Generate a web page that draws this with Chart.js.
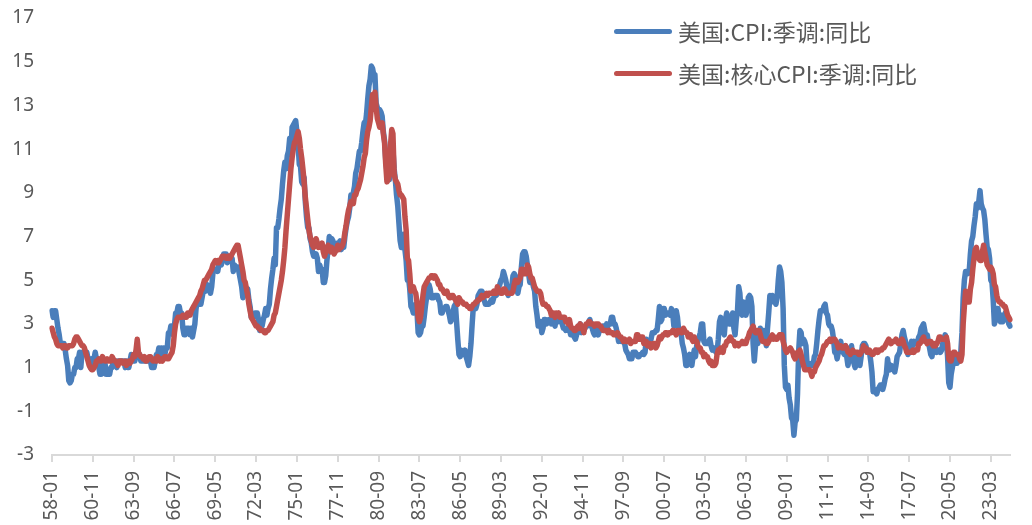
<!DOCTYPE html>
<html>
<head>
<meta charset="utf-8">
<script src="https://cdn.jsdelivr.net/npm/chart.js@4/dist/chart.umd.min.js"></script>
<style>
  html, body { margin: 0; padding: 0; background: #ffffff; }
  #wrap { position: relative; width: 1032px; height: 525px; }
  #legend { position: absolute; left: 614px; top: 10px; font-family: "Noto Sans CJK SC", "Noto Sans", sans-serif; font-size: 23px; color: #595959; }
  .row { display: flex; align-items: center; height: 42px; }
  .swatch { width: 58px; height: 5px; border-radius: 3px; margin-right: 6px; }
</style>
</head>
<body>
<div id="wrap">
  <canvas id="c" width="1032" height="525"></canvas>
  <div id="legend"></div>
</div>
<script>
// Monthly series, 1958-01 .. 2024-07 (one line per year)
const seriesNames = ["美国:CPI:季调:同比", "美国:核心CPI:季调:同比"];
const startYear = 1958;
const tickEvery = 34; // months between labelled ticks
const yTicks = [-3, -1, 1, 3, 5, 7, 9, 11, 13, 15, 17];

const cpiYoY = [
  3.6,3.3,3.6,3.6,3.2,2.8,2.5,2.1,2.1,2.1,2.1,1.8,
  1.4,1.1,0.4,0.3,0.4,0.7,0.7,1.0,1.0,1.4,1.4,1.7,
  1.0,1.7,1.7,1.7,1.7,1.7,1.4,1.4,1.0,1.4,1.4,1.4,
  1.7,1.4,1.4,1.0,0.7,0.7,1.3,1.0,1.3,0.7,0.7,0.7,
  0.7,1.0,1.0,1.3,1.3,1.3,1.0,1.3,1.3,1.3,1.3,1.3,
  1.3,1.0,1.3,1.0,1.0,1.3,1.6,1.3,1.3,1.3,1.6,1.6,
  1.6,1.6,1.3,1.3,1.3,1.3,1.3,1.3,1.3,1.3,1.3,1.0,
  1.0,1.0,1.3,1.6,1.6,1.9,1.6,1.9,1.6,1.9,1.6,1.9,
  1.9,2.6,2.6,2.9,2.9,2.5,2.9,3.5,3.5,3.8,3.8,3.5,
  3.5,2.8,2.5,2.5,2.8,2.8,2.8,2.5,2.8,2.4,2.7,3.0,
  3.7,4.0,4.0,3.9,3.9,4.2,4.5,4.5,4.5,4.8,4.7,4.7,
  4.4,4.7,5.3,5.5,5.5,5.5,5.4,5.7,5.7,5.7,5.9,6.2,
  6.2,6.2,5.8,6.1,6.0,6.0,6.0,5.4,5.7,5.6,5.6,5.6,
  5.3,5.0,4.7,4.2,4.4,4.6,4.4,4.6,4.1,3.8,3.3,3.3,
  3.3,3.5,3.5,3.5,3.2,2.7,3.0,2.9,3.2,3.4,3.7,3.4,
  3.7,3.9,4.6,5.1,5.5,6.0,5.7,7.4,7.4,7.8,8.3,8.7,
  9.4,10.0,10.4,10.1,10.7,10.9,11.5,10.9,12.0,12.1,12.2,12.3,
  11.8,11.2,10.3,10.2,9.5,9.4,9.7,8.6,7.9,7.4,7.4,6.9,
  6.7,6.3,6.1,6.1,6.2,6.0,5.4,5.7,5.5,5.5,4.9,4.9,
  5.2,5.9,6.4,7.0,6.7,6.9,6.8,6.6,6.6,6.4,6.7,6.7,
  6.8,6.4,6.6,6.5,7.0,7.4,7.7,7.9,8.3,8.9,8.9,9.0,
  9.3,9.9,10.1,10.5,10.9,10.9,11.3,11.8,12.2,12.1,12.6,13.3,
  13.9,14.2,14.8,14.7,14.4,14.4,13.1,12.9,12.6,12.8,12.7,12.5,
  11.8,11.4,10.5,10.0,9.8,9.6,10.8,10.8,11.0,10.1,9.6,8.9,
  8.4,7.6,6.8,6.5,6.7,7.1,6.4,5.9,5.0,5.1,4.6,3.8,
  3.7,3.5,3.6,3.9,3.6,2.6,2.5,2.6,2.9,2.9,3.3,3.8,
  4.2,4.6,4.8,4.6,4.2,4.2,4.2,4.3,4.3,4.3,4.1,4.0,
  3.5,3.5,3.7,3.7,3.8,3.8,3.6,3.4,3.1,3.2,3.5,3.8,
  3.9,3.1,2.3,1.6,1.5,1.8,1.6,1.6,1.8,1.5,1.3,1.1,
  1.5,2.1,3.0,3.8,3.9,3.7,3.9,4.3,4.4,4.5,4.5,4.4,
  4.1,3.9,3.9,3.9,3.9,4.0,4.1,4.0,4.2,4.3,4.3,4.4,
  4.7,4.8,5.0,5.1,5.4,5.2,5.0,4.7,4.3,4.5,4.7,4.7,
  5.2,5.3,5.2,4.7,4.4,4.7,4.8,5.6,6.2,6.3,6.3,6.1,
  5.7,5.3,4.9,4.9,5.0,4.7,4.5,3.8,3.4,2.9,3.0,3.1,
  2.6,2.8,3.2,3.2,3.0,3.1,3.2,3.2,3.0,3.2,3.1,2.9,
  3.3,3.3,3.1,3.2,3.2,3.0,2.8,2.8,2.7,2.8,2.7,2.8,
  2.5,2.5,2.5,2.4,2.3,2.5,2.8,2.9,3.0,2.6,2.7,2.7,
  2.8,2.9,2.9,3.1,3.2,3.0,2.8,2.6,2.5,2.8,2.6,2.5,
  2.7,2.7,2.8,2.9,2.9,2.8,3.0,2.9,3.0,3.0,3.3,3.3,
  3.0,3.0,2.8,2.5,2.2,2.3,2.2,2.2,2.2,2.1,1.8,1.7,
  1.6,1.4,1.4,1.4,1.7,1.7,1.7,1.6,1.5,1.5,1.6,1.6,
  1.7,1.6,1.7,2.3,2.1,2.0,2.2,2.3,2.6,2.6,2.6,2.7,
  2.7,3.2,3.8,3.1,3.2,3.7,3.7,3.4,3.5,3.5,3.5,3.4,
  3.7,3.5,2.9,3.3,3.6,3.3,2.7,2.7,2.6,2.1,1.9,1.6,
  1.1,1.1,1.5,1.6,1.2,1.1,1.5,1.8,1.5,2.0,2.2,2.4,
  2.6,3.0,3.0,2.2,2.1,2.1,2.1,2.2,2.3,2.0,1.8,1.9,
  1.9,1.7,1.7,2.3,3.1,3.3,3.0,2.7,2.5,3.2,3.5,3.3,
  3.0,3.0,3.2,3.5,2.8,2.5,3.2,3.6,4.7,4.4,3.5,3.4,
  4.0,3.6,3.4,3.6,4.2,4.3,4.2,3.8,2.1,1.3,2.0,2.5,
  2.1,2.4,2.8,2.6,2.7,2.7,2.4,2.0,2.8,3.5,4.3,4.1,
  4.3,4.0,4.0,3.9,4.2,5.0,5.6,5.4,4.9,3.7,1.1,0.1,
  0.0,0.2,-0.4,-0.7,-1.3,-1.4,-2.1,-1.5,-1.4,-0.2,1.8,2.7,
  2.6,2.1,2.3,2.2,2.0,1.1,1.2,1.1,1.1,1.2,1.1,1.5,
  1.6,2.1,2.7,3.2,3.6,3.6,3.6,3.8,3.9,3.5,3.4,3.0,
  2.9,2.9,2.7,2.3,1.7,1.7,1.4,1.7,2.0,2.2,1.8,1.7,
  1.6,2.0,1.5,1.1,1.4,1.8,2.0,1.5,1.2,1.0,1.2,1.5,
  1.6,1.1,1.5,2.0,2.1,2.1,2.0,1.7,1.7,1.7,1.3,0.8,
  -0.1,0.0,-0.1,-0.2,0.0,0.1,0.2,0.2,0.0,0.2,0.5,0.7,
  1.4,1.0,0.9,1.1,1.0,1.0,0.8,1.1,1.5,1.6,1.7,2.1,
  2.5,2.7,2.4,2.2,1.9,1.6,1.7,1.9,2.2,2.0,2.2,2.1,
  2.1,2.2,2.4,2.5,2.8,2.9,3.0,2.7,2.3,2.5,2.2,1.9,
  1.6,1.5,1.9,2.0,1.8,1.7,1.8,1.8,1.7,1.8,2.1,2.3,
  2.5,2.3,1.5,0.3,0.1,0.7,1.0,1.3,1.4,1.2,1.2,1.4,
  1.4,1.7,2.6,4.2,5.0,5.4,5.4,5.3,5.4,6.2,6.8,7.0,
  7.5,7.9,8.5,8.3,8.6,9.1,8.5,8.3,8.2,7.8,7.1,6.5,
  6.4,6.0,5.0,4.9,4.1,3.0,3.2,3.7,3.7,3.2,3.1,3.4,
  3.1,3.2,3.5,3.4,3.3,3.0,2.9
];

const coreYoY = [
  2.8,2.6,2.4,2.3,2.1,2.0,2.0,2.0,2.0,1.9,2.0,2.0,
  1.9,1.9,2.0,2.0,2.0,2.0,2.1,2.3,2.4,2.4,2.3,2.2,
  2.1,2.0,2.0,1.9,1.7,1.5,1.3,1.1,1.0,0.9,0.9,1.0,
  1.1,1.3,1.3,1.4,1.3,1.3,1.5,1.4,1.3,1.3,1.4,1.3,
  1.3,1.3,1.5,1.4,1.3,1.3,1.2,1.1,1.3,1.3,1.3,1.2,
  1.2,1.3,1.1,1.2,1.3,1.2,1.3,1.4,1.6,1.5,1.8,2.3,
  1.7,1.6,1.5,1.5,1.4,1.5,1.3,1.3,1.4,1.5,1.5,1.4,
  1.3,1.3,1.4,1.3,1.5,1.4,1.3,1.4,1.3,1.4,1.5,1.5,
  1.4,1.4,1.5,1.6,1.7,2.0,2.6,3.0,3.2,3.3,3.3,3.3,
  3.3,3.4,3.4,3.3,3.3,3.5,3.5,3.4,3.6,3.7,3.8,3.9,
  4.0,4.1,4.2,4.3,4.5,4.6,4.8,5.0,5.0,5.1,5.2,5.3,
  5.4,5.5,5.7,5.8,5.9,5.8,5.9,5.8,5.9,6.0,6.1,6.1,
  6.1,6.0,6.0,6.1,6.0,6.1,6.2,6.3,6.4,6.5,6.6,6.6,
  6.3,6.0,5.7,5.4,5.0,4.9,4.6,4.3,3.9,3.6,3.3,3.2,
  3.1,3.0,2.9,2.9,2.8,2.8,2.7,2.7,2.7,2.6,2.6,2.7,
  2.7,2.8,2.9,3.0,3.1,3.4,3.5,3.8,4.1,4.4,4.7,5.0,
  5.4,5.9,6.5,7.3,8.0,8.7,9.4,10.1,10.6,11.0,11.3,11.4,
  11.6,11.8,11.5,11.0,10.6,10.1,9.5,8.8,8.3,7.8,7.3,7.0,
  6.8,6.6,6.5,6.6,6.9,6.7,6.5,6.6,6.5,6.7,6.3,6.1,
  6.3,6.5,6.6,6.4,6.3,6.5,6.3,6.2,6.3,6.4,6.6,6.4,
  6.5,6.5,6.6,6.8,7.2,7.5,7.9,8.2,8.4,8.6,8.5,8.5,
  8.9,8.9,9.1,9.2,9.4,9.6,9.9,10.2,10.6,10.8,11.4,11.8,
  12.0,12.3,12.9,13.5,13.3,13.6,12.9,12.4,12.2,12.0,12.1,12.2,
  11.7,11.3,10.3,9.5,9.6,9.8,11.2,11.9,11.7,9.9,9.6,9.5,
  9.4,9.1,8.9,8.9,8.8,8.7,7.9,7.3,6.0,5.9,5.3,4.5,
  4.7,4.7,4.5,4.4,4.0,3.3,3.1,3.3,3.8,4.3,4.7,4.8,
  4.9,5.0,5.1,5.1,5.2,5.2,5.1,5.2,5.1,5.0,4.8,4.8,
  4.6,4.6,4.5,4.4,4.4,4.5,4.3,4.2,4.2,4.3,4.3,4.2,
  4.1,4.0,3.9,4.2,4.1,4.0,4.0,3.9,3.9,3.9,3.8,3.8,
  3.7,3.7,3.8,3.9,3.9,4.0,4.0,4.1,4.1,4.2,4.3,4.2,
  4.3,4.3,4.4,4.3,4.4,4.4,4.4,4.4,4.5,4.4,4.4,4.7,
  4.5,4.5,4.4,4.4,4.6,4.6,4.5,4.4,4.4,4.4,4.4,4.4,
  4.5,4.8,5.0,4.9,4.9,5.0,5.1,5.5,5.5,5.3,5.3,5.3,
  5.7,5.6,5.3,5.1,5.1,4.9,4.7,4.6,4.5,4.5,4.5,4.4,
  4.1,3.9,3.9,3.9,3.8,3.8,3.7,3.6,3.4,3.5,3.5,3.3,
  3.5,3.4,3.5,3.3,3.3,3.3,3.3,3.3,3.1,3.1,3.0,3.2,
  2.9,2.8,2.8,2.7,2.7,2.8,2.9,2.8,3.0,2.8,2.8,2.6,
  2.9,3.0,3.0,3.1,3.1,3.0,3.0,3.0,2.9,3.0,3.0,3.0,
  2.9,2.9,2.8,2.7,2.7,2.7,2.7,2.6,2.7,2.6,2.6,2.6,
  2.5,2.5,2.5,2.6,2.5,2.4,2.4,2.3,2.2,2.3,2.2,2.2,
  2.2,2.3,2.1,2.2,2.2,2.2,2.2,2.5,2.5,2.3,2.3,2.4,
  2.4,2.1,2.1,2.2,2.0,2.1,2.1,1.9,2.0,2.1,2.1,1.9,
  2.0,2.2,2.4,2.3,2.4,2.5,2.5,2.6,2.6,2.5,2.6,2.6,
  2.6,2.7,2.7,2.6,2.5,2.7,2.7,2.7,2.6,2.6,2.8,2.7,
  2.6,2.6,2.4,2.5,2.5,2.3,2.2,2.4,2.2,2.2,2.0,1.9,
  1.9,1.7,1.7,1.5,1.6,1.5,1.5,1.3,1.2,1.3,1.1,1.1,
  1.1,1.2,1.6,1.8,1.7,1.9,1.8,1.7,2.0,2.0,2.2,2.2,
  2.3,2.4,2.3,2.2,2.2,2.0,2.1,2.1,2.0,2.1,2.1,2.2,
  2.1,2.1,2.1,2.3,2.4,2.6,2.7,2.8,2.9,2.7,2.6,2.6,
  2.7,2.7,2.5,2.3,2.2,2.2,2.2,2.1,2.1,2.2,2.3,2.4,
  2.5,2.3,2.4,2.3,2.3,2.4,2.5,2.5,2.5,2.2,2.0,1.8,
  1.7,1.8,1.8,1.9,1.8,1.7,1.5,1.4,1.5,1.7,1.7,1.8,
  1.6,1.3,1.1,0.9,0.9,0.9,0.9,0.9,0.8,0.6,0.8,0.8,
  1.0,1.1,1.2,1.3,1.5,1.6,1.8,2.0,2.0,2.1,2.2,2.2,
  2.3,2.2,2.3,2.3,2.3,2.2,2.1,1.9,2.0,2.0,1.9,1.9,
  1.9,2.0,1.9,1.7,1.7,1.6,1.7,1.8,1.7,1.7,1.7,1.7,
  1.6,1.6,1.7,1.8,2.0,1.9,1.9,1.7,1.7,1.8,1.7,1.6,
  1.6,1.7,1.8,1.8,1.7,1.8,1.8,1.8,1.9,1.9,2.0,2.1,
  2.2,2.3,2.2,2.1,2.2,2.2,2.2,2.3,2.2,2.1,2.1,2.2,
  2.3,2.2,2.0,1.9,1.7,1.7,1.7,1.7,1.7,1.8,1.7,1.8,
  1.8,1.8,2.1,2.1,2.2,2.3,2.4,2.2,2.2,2.1,2.2,2.2,
  2.2,2.1,2.0,2.1,2.0,2.1,2.2,2.4,2.4,2.3,2.3,2.3,
  2.3,2.4,2.1,1.4,1.3,1.3,1.6,1.7,1.7,1.6,1.6,1.6,
  1.4,1.3,1.6,3.0,3.8,4.5,4.3,4.0,4.0,4.6,4.9,5.5,
  6.0,6.4,6.5,6.2,6.0,5.9,5.9,6.3,6.6,6.3,6.0,5.7,
  5.6,5.5,5.6,5.5,5.3,4.8,4.7,4.3,4.1,4.0,4.0,3.9,
  3.9,3.8,3.8,3.6,3.4,3.3,3.2
];

const seriesColors = ["#4a7ebb", "#c0504d"];

// month labels "YY-MM"
const monthLabels = cpiYoY.map((_, i) => {
  const y = startYear + Math.floor(i / 12);
  const m = (i % 12) + 1;
  return String(y % 100).padStart(2, "0") + "-" + String(m).padStart(2, "0");
});

const tickColor = "#595959";
const axisColor = "#d9d9d9";

new Chart(document.getElementById("c"), {
  type: "line",
  data: {
    labels: monthLabels,
    datasets: [
      { label: seriesNames[0], data: cpiYoY, borderColor: seriesColors[0], backgroundColor: seriesColors[0],
        borderWidth: 5.5, pointRadius: 0, tension: 0, borderJoinStyle: "round", borderCapStyle: "round", order: 1 },
      { label: seriesNames[1], data: coreYoY, borderColor: seriesColors[1], backgroundColor: seriesColors[1],
        borderWidth: 5.5, pointRadius: 0, tension: 0, borderJoinStyle: "round", borderCapStyle: "round", order: 0 }
    ]
  },
  options: {
    responsive: false,
    animation: false,
    layout: { padding: { left: 0, right: 22, top: 18, bottom: 0 } },
    plugins: { legend: { display: false }, tooltip: { enabled: false } },
    scales: {
      x: {
        type: "category",
        offset: false,
        afterBuildTicks: (scale) => { scale.ticks = scale.ticks.filter(t => t.value % tickEvery === 0); },
        afterFit: (scale) => { scale.height = 70; },
        grid: { display: true, drawOnChartArea: false, drawTicks: true, tickLength: 7, color: axisColor, lineWidth: 2 },
        border: { display: true, color: axisColor, width: 2 },
        ticks: { autoSkip: false, minRotation: 90, maxRotation: 90, padding: 9, color: tickColor,
                 font: { family: "'Noto Sans', sans-serif", size: 19 } }
      },
      y: {
        min: -3, max: 17,
        afterBuildTicks: (scale) => { scale.ticks = yTicks.map(v => ({ value: v })); },
        afterFit: (scale) => { scale.width = 52; },
        grid: { display: false, drawTicks: true, tickLength: 12 },
        border: { display: false },
        ticks: { padding: 6, color: tickColor, font: { family: "'Noto Sans', sans-serif", size: 19 } }
      }
    }
  }
});

// HTML legend built from the series names/colors
const legend = document.getElementById("legend");
seriesNames.forEach((name, i) => {
  const row = document.createElement("div");
  row.className = "row";
  const sw = document.createElement("span");
  sw.className = "swatch";
  sw.style.background = seriesColors[i];
  const tx = document.createElement("span");
  tx.textContent = name;
  row.appendChild(sw);
  row.appendChild(tx);
  legend.appendChild(row);
});
</script>
</body>
</html>
